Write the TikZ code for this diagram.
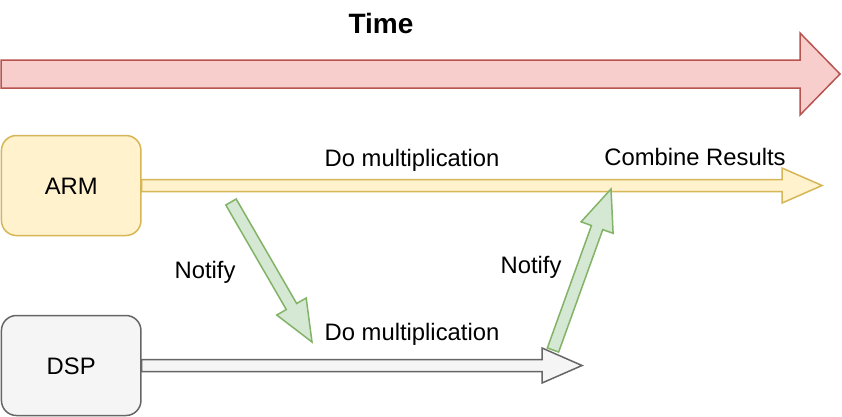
\documentclass[tikz,border=0pt]{standalone}
\usepackage{fontspec}
\setmainfont{Liberation Sans}
\usetikzlibrary{calc}
\definecolor{redfill}{HTML}{F8CECC}
\definecolor{redline}{HTML}{B85450}
\definecolor{yelfill}{HTML}{FFF2CC}
\definecolor{yelline}{HTML}{D6B656}
\definecolor{grayfill}{HTML}{F5F5F5}
\definecolor{grayline}{HTML}{666666}
\definecolor{grnfill}{HTML}{D5E8D4}
\definecolor{grnline}{HTML}{82B366}
% block arrow: style, tail, tip, half body width, half head width, head length
\newcommand\blockarrow[6]{%
  \coordinate (ba-h) at ($(#3)!#6!(#2)$);
  \path[#1] ($(#2)!#4!90:(#3)$) -- ($(ba-h)!#4!90:(#3)$) -- ($(ba-h)!#5!90:(#3)$)
    -- (#3) -- ($(ba-h)!#5!-90:(#3)$) -- ($(ba-h)!#4!-90:(#3)$) -- ($(#2)!#4!-90:(#3)$) -- cycle;}
\begin{document}
\begin{tikzpicture}[x=1pt,y=-1pt,
  lbl/.style={anchor=base,inner sep=0pt,font=\fontsize{23.8}{28}\selectfont},
  procbox/.style={draw,line width=1.5pt,rounded corners=15pt,minimum width=139.5pt,minimum height=100pt,inner sep=0pt},
  redarrow/.style={draw=redline,fill=redfill,line width=1.5pt,line join=miter},
  yelarrow/.style={draw=yelline,fill=yelfill,line width=1.5pt},
  grayarrow/.style={draw=grayline,fill=grayfill,line width=1.5pt},
  grnarrow/.style={draw=grnline,fill=grnfill,line width=1.5pt}]
\useasboundingbox (0,0) rectangle (842,416);
\fill[white] (0,0) rectangle (842,416);
% time
\node[lbl,font=\bfseries\fontsize{28}{32}\selectfont] (time) at (381,33) {Time};
\coordinate (t1) at (1,74);
\coordinate (t2) at (840,74);
\blockarrow{redarrow}{t1}{t2}{14pt}{41pt}{40pt}
% boxes
\node[procbox,draw=yelline,fill=yelfill] (arm) at (71.2,185.5) {};
\node[lbl] (armtxt) at (71.2,194) {ARM};
\node[procbox,draw=grayline,fill=grayfill] (dsp) at (71.2,365.5) {};
\node[lbl] (dsptxt) at (71.2,374) {DSP};
% timelines
\coordinate (armend) at (822,185.5);
\coordinate (dspend) at (582,365.5);
\blockarrow{yelarrow}{arm.east}{armend}{6pt}{17.5pt}{40pt}
\blockarrow{grayarrow}{dsp.east}{dspend}{6pt}{17.5pt}{40pt}
% notify arrows
\coordinate (n1a) at (231,202);
\coordinate (n1b) at (312,342);
\coordinate (n2a) at (553,350);
\coordinate (n2b) at (611,189);
\blockarrow{grnarrow}{n1a}{n1b}{6pt}{17pt}{41pt}
\blockarrow{grnarrow}{n2a}{n2b}{6pt}{17pt}{41pt}
% labels
\node[lbl] (mul1) at (412,166) {Do multiplication};
\node[lbl] (comb) at (695,165) {Combine Results};
\node[lbl] (mul2) at (412,340) {Do multiplication};
\node[lbl] (not1) at (205,278) {Notify};
\node[lbl] (not2) at (531,273) {Notify};
\end{tikzpicture}
\end{document}
